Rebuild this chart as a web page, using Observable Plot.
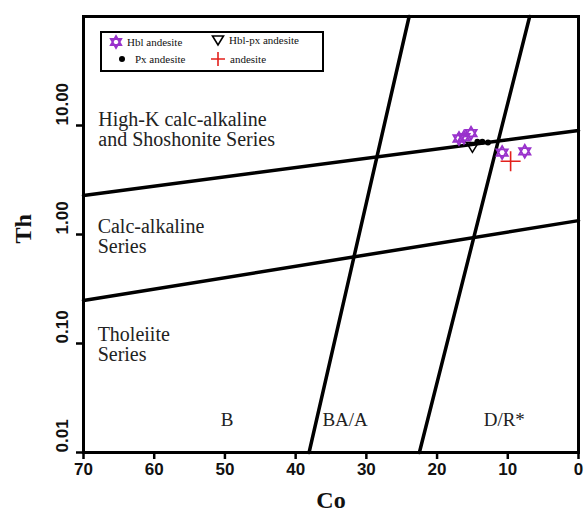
<!DOCTYPE html>
<html><head><meta charset="utf-8">
<script src="https://cdn.jsdelivr.net/npm/d3@7"></script>
<script src="https://cdn.jsdelivr.net/npm/@observablehq/plot@0.6"></script>
<style>
body{margin:0;background:#fff}
#wrap{position:relative;width:584px;height:512px;overflow:hidden}
#legend{position:absolute;left:100px;top:31px;width:220px;height:37px;border:2px solid #000;background:#fff;font:11px "Liberation Serif",serif;color:#111}
#legend .it{position:absolute;white-space:nowrap;display:flex;align-items:center}
#legend svg{overflow:visible}
</style></head><body><div id="wrap"><div id="chart"></div><div id="legend"></div></div>
<script>
// ---- data ----
const coTicks = [70, 60, 50, 40, 30, 20, 10, 0];
const thTicks = [0.01, 0.1, 1, 10];
const thTickLabels = ["0.01", "0.10", "1.00", "10.00"];

// boundary lines (Co, Th)
const highKCo = [70, 0];      const highKTh = [2.28, 9.0];
const tholCo = [70, 0];       const tholTh = [0.248, 1.34];
const bBaCo = [38.1, 23.95];  const bBaTh = [0.01, 100];
const baDrCo = [22.5, 6.9];   const baDrTh = [0.01, 100];

// samples
const hblCo = [16.9, 16.2, 15.2, 10.8, 7.6];
const hblTh = [7.6, 7.8, 8.5, 5.65, 5.8];
const pxCo = [14.3, 13.6, 12.8];
const pxTh = [7.1, 7.1, 7.0];
const hblPxCo = [15.0];
const hblPxTh = [6.4];
const andCo = [9.6];
const andTh = [4.7];

// region labels
const regionText = ["High-K calc-alkaline\nand Shoshonite Series", "Calc-alkaline\nSeries", "Tholeiite\nSeries"];
const regionCo = [67.9, 68.0, 68.0];
const regionTh = [13.4, 1.40, 0.141];
const fieldText = ["B", "BA/A", "D/R*"];
const fieldCo = [49.7, 33.0, 10.5];
const fieldTh = [0.0198, 0.0198, 0.0198];

const legendNames = ["Hbl andesite", "Hbl-px andesite", "Px andesite", "andesite"];

// ---- helpers ----
const zip = (a, b) => a.map((v, i) => ({co: v, th: b[i]}));
const hexagram = {draw(ctx, size) {
  const r = Math.sqrt(size / Math.PI);
  for (const off of [-Math.PI / 2, Math.PI / 2]) {
    for (let i = 0; i < 3; i++) {
      const a = off + i * 2 * Math.PI / 3;
      const x = r * Math.cos(a), y = r * Math.sin(a);
      i ? ctx.lineTo(x, y) : ctx.moveTo(x, y);
    }
    ctx.closePath();
  }
}};
const triDown = {draw(ctx, size) {
  const r = Math.sqrt(size / Math.PI);
  ctx.moveTo(-r, -r * 0.7); ctx.lineTo(r, -r * 0.7); ctx.lineTo(0, r * 0.95); ctx.closePath();
}};
const purple = "#9932cc", red = "#e3211c";
const serif = "Liberation Serif, Times New Roman, serif";
const sans = "Liberation Sans, Arial, sans-serif";

const lines = [[highKCo, highKTh], [tholCo, tholTh], [bBaCo, bBaTh], [baDrCo, baDrTh]];

const chart = Plot.plot({
  width: 584, height: 512,
  marginLeft: 83, marginRight: 6, marginTop: 16, marginBottom: 60,
  x: {domain: [70, 0]},
  y: {type: "log", domain: [0.01, 100]},
  style: {background: "white"},
  marks: [
    Plot.axisX(coTicks, {tickSize: 7, strokeWidth: 2.5, tickPadding: 3, fontSize: 17, fontWeight: "bold", fontFamily: sans, fill: "#111", label: null}),
    Plot.axisY(thTicks, {tickSize: 7, strokeWidth: 2.5, tickFormat: () => "", label: null}),
    Plot.text(thTicks, {y: d => d, text: (d, i) => thTickLabels[i], frameAnchor: "left", dx: -21, rotate: -90, fontSize: 17, fontWeight: "bold", fontFamily: sans, fill: "#111"}),
    ...lines.map(([c, t]) => Plot.line(zip(c, t), {x: "co", y: "th", stroke: "black", strokeWidth: 3.5})),
    Plot.frame({stroke: "black", strokeWidth: 3}),
    Plot.text(zip(regionCo, regionTh).map((d, i) => ({...d, t: regionText[i]})), {x: "co", y: "th", text: "t", textAnchor: "start", lineAnchor: "top", lineHeight: 1.0, fontSize: 20, fontFamily: serif, fill: "#222"}),
    Plot.text(zip(fieldCo, fieldTh).map((d, i) => ({...d, t: fieldText[i]})), {x: "co", y: "th", text: "t", fontSize: 19, fontFamily: serif, fill: "#222"}),
    Plot.dot(zip(hblCo, hblTh), {x: "co", y: "th", symbol: hexagram, r: 6.5, stroke: purple, strokeWidth: 1.8, fill: "none"}),
    Plot.dot(zip(hblPxCo, hblPxTh), {x: "co", y: "th", symbol: triDown, r: 6, stroke: "black", strokeWidth: 1.5, fill: "none"}),
    Plot.dot(zip(pxCo, pxTh), {x: "co", y: "th", r: 3, fill: "black"}),
    Plot.dot(zip(andCo, andTh), {x: "co", y: "th", symbol: "plus", r: 6.5, stroke: red, strokeWidth: 1.6}),
    Plot.text(["Co"], {frameAnchor: "bottom", dy: 55, fontSize: 24, fontWeight: "bold", fontFamily: serif, fill: "#111"}),
    Plot.text(["Th"], {frameAnchor: "left", dx: -60, dy: 9, rotate: -90, fontSize: 24, fontWeight: "bold", fontFamily: serif, fill: "#111"})
  ]
});
document.getElementById("chart").appendChild(chart);

// legend
const sym = {
  "Hbl andesite": `<svg width="14" height="14" viewBox="-7 -7 14 14"><path d="M0,-6L5.2,3L-5.2,3ZM0,6L5.2,-3L-5.2,-3Z" fill="none" stroke="${purple}" stroke-width="1.8"/></svg>`,
  "Hbl-px andesite": `<svg width="14" height="14" viewBox="-7 -7 14 14"><path d="M-5.5,-4L5.5,-4L0,5Z" fill="none" stroke="#000" stroke-width="1.6"/></svg>`,
  "Px andesite": `<svg width="14" height="14" viewBox="-7 -7 14 14"><circle r="3" fill="#000"/></svg>`,
  "andesite": `<svg width="16" height="16" viewBox="-8 -8 16 16"><path d="M-7,0H7M0,-7V7" stroke="${red}" stroke-width="1.6"/></svg>`
};
const pos = {"Hbl andesite": [7, 2], "Hbl-px andesite": [109, 0], "Px andesite": [13, 19], "andesite": [108, 18]};
const lg = document.getElementById("legend");
for (const n of legendNames) {
  const d = document.createElement("div");
  d.className = "it";
  d.style.left = pos[n][0] + "px"; d.style.top = pos[n][1] + "px";
  d.innerHTML = sym[n] + `<span style="margin-left:${n === "Px andesite" ? 6 : 4}px">${n}</span>`;
  lg.appendChild(d);
}
</script></body></html>
